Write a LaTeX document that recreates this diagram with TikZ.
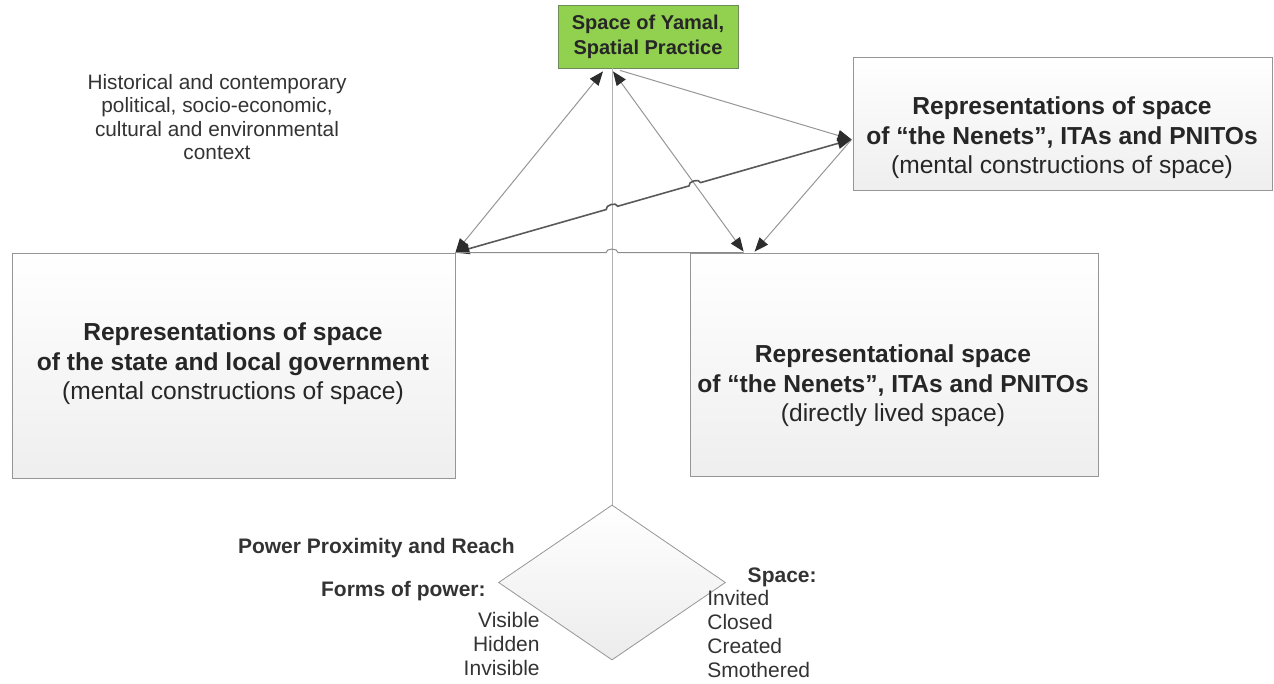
\documentclass[tikz,border=0pt]{standalone}
\usepackage{fontspec}
\setmainfont{Liberation Sans}
\usetikzlibrary{calc,intersections,shapes,arrows.meta,positioning}

\definecolor{yamalgreen}{RGB}{146,208,80}
\definecolor{greenline}{RGB}{110,140,90}
\definecolor{boxline}{RGB}{150,150,150}
\definecolor{linkgray}{RGB}{150,150,150}
\definecolor{headgray}{RGB}{45,45,45}

\tikzset{
  spacebox/.style={draw=boxline, top color=white, bottom color=gray!13, inner sep=0pt},
  boxtext/.style={align=center, text=black!85, font=\fontsize{12.3}{14.8}\selectfont},
  smalltext/.style={align=center, text=black!80, font=\fontsize{10.4}{11.6}\selectfont},
  listtext/.style={text=black!80, font=\fontsize{10.5}{11.9}\selectfont, inner sep=0pt},
  link/.style={draw=linkgray, line width=0.5pt},
  strong link/.style={draw=black!65, line width=0.8pt},
  >={Triangle[length=7pt,width=5.5pt,color=headgray]}
}

\begin{document}
\begin{tikzpicture}[x=0.5pt, y=-0.5pt]
\useasboundingbox (0,0) rectangle (1274,684);

% boxes
\node[draw=greenline, fill=yamalgreen, minimum width=90pt, minimum height=31.5pt, inner sep=0pt,
  align=center, text=black!85, font=\bfseries\fontsize{10}{12.4}\selectfont] (green) at (648,36.5)
  {Space of Yamal,\\Spatial Practice};
\node[spacebox, minimum width=209.5pt, minimum height=66.5pt] (tr) at (1062.5,123.5) {};
\node[spacebox, minimum width=221.5pt, minimum height=112.5pt] (lb) at (233.5,365.5) {};
\node[spacebox, minimum width=204pt, minimum height=111.5pt] (rl) at (894,364.5) {};
\node[draw=boxline, top color=white, bottom color=gray!15, shape=diamond, inner sep=0pt,
  minimum width=113.5pt, minimum height=77.5pt] (pow) at (612,582.5) {};

\node[boxtext] (trtext) at (1062,138) {\textbf{Representations of space}\\\textbf{of “the Nenets”, ITAs and PNITOs}\\(mental constructions of space)};
\node[boxtext] (lbtext) at (233,364) {\textbf{Representations of space}\\\textbf{of the state and local government}\\(mental constructions of space)};
\node[boxtext] (rltext) at (893,386) {\textbf{Representational space}\\\textbf{of “the Nenets”, ITAs and PNITOs}\\(directly lived space)};
\node[smalltext] (context) at (217,117) {Historical and contemporary\\political, socio-economic,\\cultural and environmental\\context};

% power and space labels
\node[listtext, anchor=east, font=\bfseries\fontsize{10.5}{11.9}\selectfont] (reach) at (515,548) {Power Proximity and Reach};
\node[listtext, anchor=east, font=\bfseries\fontsize{10.5}{11.9}\selectfont] (forms) at (486,591) {Forms of power:};
\node[listtext, anchor=east, align=right] (formlist) at (540,644) {Visible\\Hidden\\Invisible};
\node[listtext, anchor=east, font=\bfseries\fontsize{10.5}{11.9}\selectfont] (spacehead) at (817,577) {Space:};
\node[listtext, anchor=west, align=left] (spacelist) at (707,634) {Invited\\Closed\\Created\\Smothered};

% connectors
\coordinate (gA) at ($(green.south)+(-45,3)$);
\coordinate (gB) at ($(green.south)+(-35,3)$);
\coordinate (gC) at ($(green.south)+(-28,2)$);
\coordinate (trin) at ($(tr.west)+(-1,16)$);
\coordinate (rlA) at ($(rl.north west)+(54,-1)$);
\coordinate (rlB) at ($(rl.north west)+(65,-1)$);

\draw[link, draw=black!30, name path=vline] (green.south -| pow.north) -- (pow.north);
\draw[link, <->, name path=bline] (gB) -- (rlA);
\draw[link, <->] (gA) -- (lb.north east);
\draw[link, ->] (gC) -- (trin);
\draw[link, ->] (trin) -- (rlB);

\path[name path=dline] (lb.north east) -- (trin);
\path[name intersections={of=dline and vline, by=x1}];
\path[name intersections={of=dline and bline, by=x2}];
\draw[strong link, <->] (lb.north east) -- ($(x1)!3pt!(lb.north east)$) to[bend left=90] ($(x1)!3pt!(trin)$)
  -- ($(x2)!3pt!(lb.north east)$) to[bend left=90] ($(x2)!3pt!(trin)$) -- (trin);

\coordinate (x3) at (lb.north east -| pow.north);
\draw[link, draw=black!45] (lb.north east) -- ($(x3)+(-6,0)$) to[bend left=90] ($(x3)+(6,0)$) -- (rlA |- rl.north);
\end{tikzpicture}
\end{document}
